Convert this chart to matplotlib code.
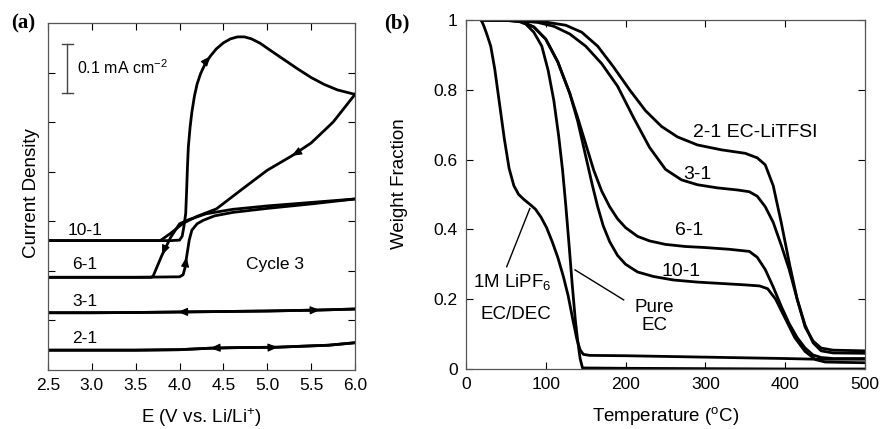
import numpy as np
import matplotlib
matplotlib.use("Agg")
import matplotlib.pyplot as plt

plt.rcParams['font.family'] = ['Liberation Sans', 'DejaVu Sans']
plt.rcParams['mathtext.fontset'] = 'custom'
plt.rcParams['mathtext.rm'] = 'Liberation Sans'
plt.rcParams['mathtext.it'] = 'Liberation Sans:italic'

# ---- panel (a): cyclic voltammetry, cycle 3 (offset curves, 0.1 mA cm-2 per tick) ----
e_2_1 = [2.5, 3.0, 3.5, 4.0, 4.35, 4.6, 5.12, 5.4, 5.7, 6.0]
j_2_1 = [0.040, 0.040, 0.040, 0.041, 0.044, 0.045, 0.046, 0.048, 0.050, 0.055]

e_3_1 = [2.5, 3.0, 3.5, 3.98, 4.5, 5.0, 5.6, 6.0]
j_3_1 = [0.1155, 0.1155, 0.116, 0.117, 0.118, 0.119, 0.121, 0.123]

e_6_1_fwd = [2.5, 3.0, 3.5, 4.0, 4.04, 4.06, 4.08, 4.11, 4.14, 4.2, 4.27, 4.4, 4.61, 5.0, 5.5, 6.0]
j_6_1_fwd = [0.187, 0.187, 0.187, 0.188, 0.192, 0.205, 0.228, 0.262, 0.282, 0.295, 0.302, 0.311,
             0.318, 0.326, 0.335, 0.345]
e_6_1_rev = [6.0, 5.5, 5.0, 4.6, 4.3, 4.1, 4.0, 3.9, 3.8, 3.7, 3.68, 3.5, 3.0, 2.5]
j_6_1_rev = [0.345, 0.338, 0.331, 0.324, 0.315, 0.303, 0.295, 0.268, 0.232, 0.19, 0.187, 0.187,
             0.187, 0.187]

e_10_1_fwd = [2.5, 3.0, 3.5, 3.9, 4.0, 4.03, 4.05, 4.07, 4.08, 4.09, 4.10, 4.12, 4.14, 4.17, 4.20,
              4.24, 4.29, 4.35, 4.42, 4.50, 4.58, 4.66, 4.74, 4.82, 4.92, 5.05, 5.2, 5.35, 5.5, 5.65,
              5.8, 6.0]
j_10_1_fwd = [0.261, 0.261, 0.261, 0.261, 0.262, 0.270, 0.290, 0.316, 0.36, 0.41, 0.45, 0.49, 0.52,
              0.553, 0.577, 0.598, 0.617, 0.633, 0.648, 0.66, 0.668, 0.672, 0.672, 0.668, 0.659,
              0.643, 0.625, 0.607, 0.59, 0.576, 0.565, 0.556]
e_10_1_rev = [6.0, 5.75, 5.5, 5.28, 5.0, 4.7, 4.42, 4.2, 4.04, 3.9, 3.78, 3.5, 3.0, 2.5]
j_10_1_rev = [0.556, 0.50, 0.458, 0.432, 0.403, 0.363, 0.325, 0.31, 0.296, 0.276, 0.261, 0.261,
              0.261, 0.261]

cv_labels = ['10-1', '6-1', '3-1', '2-1']
cv_label_j = [0.282, 0.212, 0.138, 0.064]

# ---- panel (b): TGA weight fraction ----
t_2_1 = [20, 60, 100, 125, 145, 165, 185, 205, 225, 245, 265, 290, 320, 350, 365, 375, 385, 395, 405,
         415, 425, 435, 445, 460, 500]
w_2_1 = [1.0, 0.999, 0.994, 0.985, 0.965, 0.925, 0.865, 0.8, 0.74, 0.695, 0.665, 0.642, 0.628, 0.618,
         0.605, 0.585, 0.525, 0.42, 0.305, 0.2, 0.12, 0.08, 0.06, 0.054, 0.052]

t_3_1 = [20, 60, 90, 110, 130, 150, 170, 190, 210, 230, 250, 270, 290, 315, 340, 355, 365, 375, 385,
         395, 405, 415, 425, 435, 445, 460, 500]
w_3_1 = [1.0, 0.999, 0.993, 0.982, 0.96, 0.925, 0.875, 0.81, 0.72, 0.635, 0.572, 0.542, 0.528, 0.519,
         0.513, 0.508, 0.495, 0.465, 0.42, 0.355, 0.285, 0.2, 0.125, 0.075, 0.052, 0.046, 0.045]

t_6_1 = [20, 50, 70, 85, 100, 115, 130, 140, 150, 160, 170, 180, 190, 200, 215, 230, 250, 275, 300,
         330, 355, 365, 375, 385, 395, 405, 415, 425, 435, 445, 460, 500]
w_6_1 = [1.0, 0.999, 0.995, 0.98, 0.945, 0.88, 0.79, 0.72, 0.645, 0.57, 0.51, 0.465, 0.43, 0.405,
         0.38, 0.367, 0.357, 0.351, 0.348, 0.343, 0.337, 0.32, 0.285, 0.235, 0.18, 0.13, 0.09, 0.06,
         0.04, 0.033, 0.03, 0.03]

t_10_1 = [20, 50, 70, 85, 100, 115, 130, 140, 150, 158, 165, 172, 180, 190, 200, 215, 235, 260, 290,
          320, 350, 368, 378, 388, 400, 412, 425, 438, 450, 470, 500]
w_10_1 = [1.0, 0.999, 0.995, 0.98, 0.945, 0.88, 0.79, 0.71, 0.61, 0.53, 0.465, 0.41, 0.365, 0.325,
          0.30, 0.278, 0.265, 0.255, 0.249, 0.245, 0.241, 0.238, 0.230, 0.20, 0.145, 0.09, 0.05,
          0.027, 0.02, 0.019, 0.018]

t_lipf6 = [19, 22, 26, 31, 36, 42, 48, 54, 60, 66, 73, 80, 87, 94, 101, 108, 115, 122, 128, 134, 139,
           143, 147, 155, 200, 300, 400, 440, 500]
w_lipf6 = [1.0, 0.985, 0.96, 0.925, 0.86, 0.76, 0.66, 0.575, 0.525, 0.5, 0.485, 0.472, 0.458, 0.435,
           0.405, 0.365, 0.32, 0.265, 0.21, 0.14, 0.085, 0.055, 0.042, 0.039, 0.038, 0.034, 0.03,
           0.028, 0.028]

t_ec = [20, 50, 65, 75, 85, 95, 103, 110, 116, 121, 125, 129, 133, 137, 140, 143, 146, 200, 300, 400,
        500]
w_ec = [1.0, 1.0, 0.997, 0.988, 0.965, 0.925, 0.855, 0.77, 0.67, 0.57, 0.47, 0.36, 0.245, 0.14, 0.08,
        0.03, 0.003, 0.002, 0.001, 0.0, 0.0]

tga_labels = ['2-1 EC-LiTFSI', '3-1', '6-1', '10-1']
tga_label_t = [362, 290, 280, 269]
tga_label_w = [0.679, 0.556, 0.398, 0.278]

LW = 2.0
SPINE = '#555555'

fig = plt.figure(figsize=(8.82, 4.29), dpi=100)
ax1 = fig.add_axes([48 / 882, 59 / 429, 307 / 882, 347 / 429])
ax2 = fig.add_axes([466 / 882, 60 / 429, 399 / 882, 349 / 429])

for ax in (ax1, ax2):
    ax.tick_params(direction='in', top=True, right=True, length=5, width=0.8, colors='black',
                   labelsize=12.5, pad=6)
    for s in ax.spines.values():
        s.set_color(SPINE)
        s.set_linewidth(0.9)

# (a)
ax1.set_xlim(2.5, 6.0)
ax1.set_ylim(0, 0.7)
ax1.set_xticks(np.arange(2.5, 6.01, 0.5))
ax1.set_xticklabels(['%.1f' % v for v in np.arange(2.5, 6.01, 0.5)])
ax1.set_yticks(np.arange(0.1, 0.61, 0.1))
ax1.set_yticklabels([])
ax1.set_xlabel('E (V vs. Li/Li$^{+}$)', fontsize=13.5, labelpad=9)
ax1.set_ylabel('Current Density', fontsize=13.5)
ax1.yaxis.set_label_coords(-0.026, 0.51)

scans = [(e_2_1, j_2_1), (e_2_1[::-1], j_2_1[::-1]), (e_3_1, j_3_1), (e_3_1[::-1], j_3_1[::-1]),
         (e_6_1_fwd, j_6_1_fwd), (e_6_1_rev, j_6_1_rev), (e_10_1_fwd, j_10_1_fwd),
         (e_10_1_rev, j_10_1_rev)]
for e, j in scans:
    ax1.plot(e, j, 'k', lw=LW, solid_joinstyle='round')


def add_arrow(ax, e, j, e_at):
    # arrow head on the scan at potential e_at, pointing along the scan direction
    i = e.index(e_at)
    p0 = ax.transData.transform((e[i], j[i]))
    p1 = ax.transData.transform((e[i + 1], j[i + 1]))
    d = p1 - p0
    u = d / np.hypot(d[0], d[1])
    ax.annotate('', xy=(e[i], j[i]), xytext=(-8 * u[0], -8 * u[1]), textcoords='offset pixels',
                arrowprops=dict(arrowstyle='-|>,head_length=0.6,head_width=0.25', color='k', lw=0.8,
                                shrinkA=0, shrinkB=0, mutation_scale=10))


add_arrow(ax1, e_2_1, j_2_1, 5.12)
add_arrow(ax1, e_2_1[::-1], j_2_1[::-1], 4.35)
add_arrow(ax1, e_3_1, j_3_1, 5.6)
add_arrow(ax1, e_3_1[::-1], j_3_1[::-1], 3.98)
add_arrow(ax1, e_6_1_fwd, j_6_1_fwd, 4.08)
add_arrow(ax1, e_6_1_rev, j_6_1_rev, 3.8)
add_arrow(ax1, e_10_1_fwd, j_10_1_fwd, 4.35)
add_arrow(ax1, e_10_1_rev, j_10_1_rev, 5.28)

for lab, y in zip(cv_labels, cv_label_j):
    ax1.text(2.92, y, lab, fontsize=12.5, ha='center', va='center')
ax1.text(5.09, 0.212, 'Cycle 3', fontsize=12.5, ha='center', va='center')

# scale bar 0.1 mA cm-2
ax1.plot([2.72, 2.72], [0.558, 0.658], color='#444444', lw=1)
ax1.plot([2.655, 2.785], [0.558, 0.558], color='#444444', lw=1)
ax1.plot([2.655, 2.785], [0.658, 0.658], color='#444444', lw=1)
ax1.text(2.83, 0.61, '0.1 mA cm$^{-2}$', fontsize=11.5, ha='left', va='center')

# (b)
ax2.set_xlim(0, 500)
ax2.set_ylim(0, 1)
ax2.set_xticks(range(0, 501, 100))
ax2.set_yticks([0, 0.2, 0.4, 0.6, 0.8, 1.0])
ax2.set_yticklabels(['0', '0.2', '0.4', '0.6', '0.8', '1'])
ax2.set_xlabel('Temperature ($^{\\rm o}$C)', fontsize=13.5, labelpad=9)
ax2.set_ylabel('Weight Fraction', fontsize=13.5)
ax2.yaxis.set_label_coords(-0.145, 0.53)

for t, w in [(t_2_1, w_2_1), (t_3_1, w_3_1), (t_6_1, w_6_1), (t_10_1, w_10_1),
             (t_lipf6, w_lipf6), (t_ec, w_ec)]:
    ax2.plot(t, w, 'k', lw=LW, solid_joinstyle='round')

for lab, t, w in zip(tga_labels, tga_label_t, tga_label_w):
    ax2.text(t, w, lab, fontsize=14, ha='center', va='center')

ax2.text(58.5, 0.249, '1M LiPF$_6$', fontsize=13.5, ha='center', va='center')
ax2.text(62.7, 0.155, 'EC/DEC', fontsize=13.5, ha='center', va='center')
ax2.plot([51, 80], [0.293, 0.46], 'k', lw=1)
ax2.text(236, 0.15, 'Pure\nEC', fontsize=13.5, ha='center', va='center', linespacing=1.1)
ax2.plot([136.6, 197.6], [0.284, 0.198], 'k', lw=1)

fig.text(23 / 882, 1 - 23 / 429, '(a)', fontsize=15, fontweight='bold', family='Liberation Serif',
         ha='center', va='center')
fig.text(397 / 882, 1 - 23 / 429, '(b)', fontsize=15, fontweight='bold', family='Liberation Serif',
         ha='center', va='center')

fig.savefig('out.png', dpi=100)
